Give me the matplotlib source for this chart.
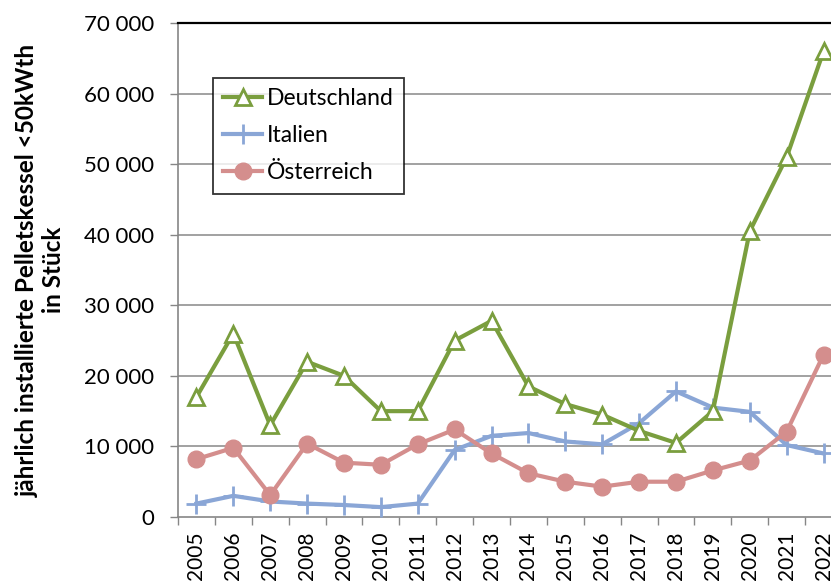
import matplotlib
matplotlib.use("Agg")
import matplotlib.pyplot as plt
from matplotlib.ticker import FuncFormatter, FixedLocator

years = ["2005", "2006", "2007", "2008", "2009", "2010", "2011", "2012", "2013",
         "2014", "2015", "2016", "2017", "2018", "2019", "2020", "2021", "2022"]
deutschland = [17000, 26000, 13000, 22000, 20000, 15000, 15000, 25000, 27800,
               18500, 16000, 14500, 12200, 10500, 15000, 40500, 51000, 66000]
italien = [1900, 3000, 2200, 1900, 1700, 1400, 1900, 9500, 11500,
           11900, 10700, 10300, 13300, 17800, 15500, 14900, 10200, 9000]
oesterreich = [8200, 9800, 3100, 10400, 7700, 7400, 10300, 12400, 9000,
               6200, 5000, 4300, 5000, 5000, 6600, 8000, 12100, 23000]
yticks = [0, 10000, 20000, 30000, 40000, 50000, 60000, 70000]

plt.rcParams['font.family'] = ['Lato', 'DejaVu Sans']

fig = plt.figure(figsize=(8.31, 5.83), dpi=100)
W, H = 831, 583
ax = fig.add_axes([178 / W, 66 / H, 664 / W, 494 / H])

x = list(range(len(years)))
green = "#7A9E3E"
blue = "#8AA6D6"
pink = "#D48E8D"

ax.plot(x, deutschland, color=green, lw=3.0, marker="^", ms=12,
        mfc="white", mec=green, mew=2.0, label="Deutschland", zorder=4)
ax.plot(x, italien, color=blue, lw=3.0, marker="+", ms=14,
        mec=blue, mew=2.0, label="Italien", zorder=3)
ax.plot(x, oesterreich, color=pink, lw=3.0, marker="o", ms=12,
        mfc=pink, mec=pink, label="Österreich", zorder=3)

ax.set_xlim(-0.5, len(years) - 0.5)
ax.set_ylim(0, 70000)
ax.set_yticks(yticks)
ax.yaxis.set_major_formatter(FuncFormatter(lambda v, p: f"{int(v):,}".replace(",", " ")))
ax.tick_params(axis="y", labelsize=16, length=6, width=1, color="#868686", pad=11)

ax.set_xticks(x)
ax.set_xticklabels(years, rotation=90, fontsize=15)
ax.xaxis.set_minor_locator(FixedLocator([i - 0.5 for i in range(len(years) + 1)]))
ax.tick_params(axis="x", which="major", length=0, pad=10.5)
ax.tick_params(axis="x", which="minor", length=6, width=1, color="#868686")

for v in yticks[1:-1]:
    ax.axhline(v, color="#9A9A9A", lw=1.3, zorder=1)

ax.spines["left"].set_color("#868686")
ax.spines["bottom"].set_color("#868686")
ax.spines["top"].set_color("black")
ax.spines["top"].set_linewidth(1.6)
ax.spines["right"].set_color("black")
for s in ("left", "bottom"):
    ax.spines[s].set_linewidth(1.2)

ax.set_ylabel("jährlich installierte Pelletskessel <50kWth\nin Stück",
              fontsize=17.5, fontweight="bold", labelpad=14, linespacing=1.15)

leg = ax.legend(loc="upper left", bbox_to_anchor=(35 / 664, 1 - 55 / 494),
                fontsize=16.5, frameon=True, fancybox=False, edgecolor="black",
                handlelength=1.7, handletextpad=0.2, borderpad=0.45,
                labelspacing=0.7, borderaxespad=0)
leg.get_frame().set_linewidth(1.3)

fig.savefig("out.png", dpi=100)
